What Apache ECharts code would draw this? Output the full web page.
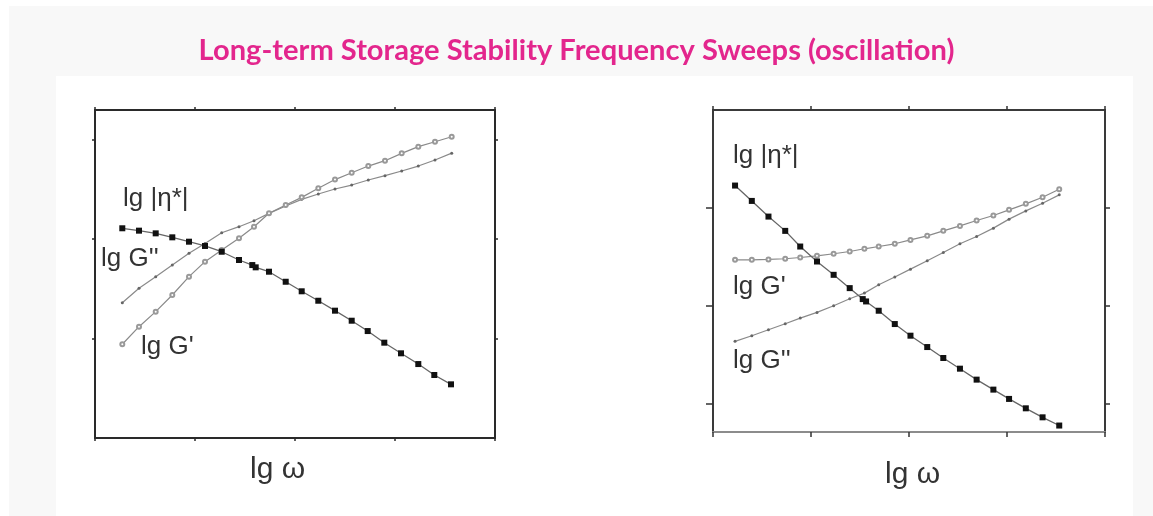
<!DOCTYPE html>
<html>
<head>
<meta charset="utf-8">
<script src="https://cdn.jsdelivr.net/npm/echarts@6/dist/echarts.min.js"></script>
<style>
  html, body { margin: 0; padding: 0; background: #ffffff; }
  #chart { width: 1153px; height: 516px; }
</style>
</head>
<body>
<div id="chart"></div>
<script>
// Frequency sweeps, log-log, arbitrary decades on both axes.
// Left panel: fresh sample
const lgOmegaL = [0.273, 0.44, 0.607, 0.773, 0.94, 1.10, 1.267, 1.44, 1.59, 1.74, 1.907,
                  2.067, 2.233, 2.40, 2.567, 2.733, 2.90, 3.067, 3.233, 3.40, 3.567];
const lgOmegaEtaL = [0.273, 0.44, 0.607, 0.773, 0.94, 1.10, 1.267, 1.44, 1.573, 1.607, 1.74,
                     1.907, 2.067, 2.233, 2.40, 2.567, 2.727, 2.893, 3.06, 3.233, 3.393, 3.56];
const etaL = [2.11, 2.086, 2.059, 2.019, 1.975, 1.932, 1.874, 1.791, 1.74, 1.717, 1.673,
              1.572, 1.476, 1.381, 1.281, 1.18, 1.076, 0.959, 0.852, 0.744, 0.634, 0.54];
const gPrimeL = [0.943, 1.12, 1.271, 1.439, 1.623, 1.774, 1.891, 2.009, 2.126, 2.261, 2.344,
                 2.421, 2.512, 2.60, 2.669, 2.736, 2.79, 2.864, 2.931, 2.981, 3.031];
const gDoubleL = [1.361, 1.506, 1.623, 1.741, 1.858, 1.958, 2.065, 2.126, 2.186, 2.26, 2.334,
                  2.401, 2.455, 2.505, 2.545, 2.596, 2.639, 2.686, 2.736, 2.797, 2.866];

// Right panel: after long-term storage
const lgOmegaR = [0.225, 0.396, 0.566, 0.737, 0.89, 1.061, 1.231, 1.395, 1.545, 1.691, 1.855,
                  2.015, 2.186, 2.35, 2.52, 2.69, 2.861, 3.021, 3.192, 3.363, 3.533];
const lgOmegaEtaR = [0.225, 0.396, 0.566, 0.737, 0.89, 1.061, 1.231, 1.395, 1.528, 1.562, 1.691,
                     1.855, 2.015, 2.186, 2.35, 2.52, 2.69, 2.861, 3.021, 3.192, 3.363, 3.533];
const etaR = [3.228, 3.071, 2.911, 2.765, 2.605, 2.452, 2.316, 2.18, 2.068, 2.044, 1.949,
              1.813, 1.694, 1.578, 1.466, 1.357, 1.245, 1.143, 1.048, 0.952, 0.86, 0.776];
const gPrimeR = [2.469, 2.469, 2.473, 2.48, 2.493, 2.51, 2.531, 2.554, 2.582, 2.605, 2.633,
                 2.673, 2.714, 2.765, 2.816, 2.871, 2.922, 2.98, 3.041, 3.109, 3.19];
const gDoubleR = [1.636, 1.694, 1.755, 1.816, 1.874, 1.932, 2.0, 2.071, 2.129, 2.214, 2.293,
                  2.374, 2.459, 2.544, 2.633, 2.707, 2.793, 2.885, 2.969, 3.048, 3.133];

const yTicks = [1, 2, 3];
const titleText = 'Long-term Storage Stability Frequency Sweeps (oscillation)';
const xName = 'lg ω';
const labelEta = 'lg |η*|';
const labelG1 = "lg G'";
const labelG2 = "lg G''";

const pair = (xs, ys) => xs.map((x, i) => [x, ys[i]]);

const FONT = '"Liberation Sans", Arial, sans-serif';

function frameAxis(grid, pos, opts) {
  return Object.assign({
    type: 'value', gridIndex: grid, position: pos,
    axisLine: { show: true, onZero: false, lineStyle: { color: '#2a2a2a', width: 2 } },
    axisTick: { show: true, inside: false, length: 3, lineStyle: { color: '#2a2a2a', width: 1.5 } },
    axisLabel: { show: false },
    splitLine: { show: false }
  }, opts);
}

// Fit the title to its measured span
function titleFontSize(text, targetWidth) {
  const c = document.createElement('canvas').getContext('2d');
  c.font = 'bold 24px Lato';
  const w = c.measureText(text).width;
  return 24 * targetWidth / w;
}

const chart = echarts.init(document.getElementById('chart'), null, { renderer: 'canvas' });

const lineGray = '#8a8a8a';

function seriesSet(xi, yi, xEta, eta, xG, g1, g2) {
  return [
    {
      type: 'line', xAxisIndex: xi, yAxisIndex: yi, data: pair(xG, g2),
      symbol: 'circle', symbolSize: 3, showSymbol: true,
      lineStyle: { color: lineGray, width: 1.2 },
      itemStyle: { color: '#666' }, z: 3
    },
    {
      type: 'line', xAxisIndex: xi, yAxisIndex: yi, data: pair(xG, g1),
      symbol: 'emptyCircle', symbolSize: 4, showSymbol: true,
      lineStyle: { color: lineGray, width: 1.2 },
      itemStyle: { color: '#999', borderWidth: 1 }, z: 4
    },
    {
      type: 'line', xAxisIndex: xi, yAxisIndex: yi, data: pair(xEta, eta),
      symbol: 'rect', symbolSize: 6, showSymbol: true,
      lineStyle: { color: '#666', width: 1.3 },
      itemStyle: { color: '#111' }, z: 5
    }
  ];
}

const txt = (x, y, s, size) => ({
  type: 'text', left: x, top: y, z: 10,
  style: { text: s, font: `${size}px ${FONT}`, fill: '#333' }
});

chart.setOption({
  animation: false,
  backgroundColor: 'transparent',
  graphic: [
    { type: 'rect', z: -10, shape: { x: 9, y: 6, width: 1144, height: 510 }, style: { fill: '#f8f8f8' } },
    { type: 'rect', z: -9, shape: { x: 56, y: 76, width: 1077, height: 440 }, style: { fill: '#ffffff' } },
    {
      type: 'text', z: 10, left: 'center', top: 36,
      style: {
        text: titleText, fill: '#e3268d',
        font: `bold ${titleFontSize(titleText, 755).toFixed(1)}px Lato, sans-serif`
      }
    },
    txt(123, 186, labelEta, 26),
    txt(101, 246, labelG2, 26),
    txt(141, 334, labelG1, 26),
    txt(733, 143, labelEta, 26),
    txt(733, 274, labelG1, 26),
    txt(733, 348, labelG2, 26),
    txt(250, 455, xName, 30),
    txt(885, 460, xName, 30)
  ],
  grid: [
    { left: 95, top: 110, width: 400, height: 328 },
    { left: 713, top: 110, width: 392, height: 322 }
  ],
  xAxis: [
    frameAxis(0, 'bottom', { min: 0, max: 4, interval: 1 }),
    frameAxis(0, 'top', { min: 0, max: 4, interval: 1 }),
    frameAxis(1, 'bottom', {
      min: 0, max: 4, interval: 1,
      axisLine: { show: true, onZero: false, lineStyle: { color: '#8c8c8c', width: 2 } },
      axisTick: { show: true, length: 5, lineStyle: { color: '#333', width: 1.5 } }
    }),
    frameAxis(1, 'top', {
      min: 0, max: 4, interval: 1,
      axisLine: { show: true, onZero: false, lineStyle: { color: '#3a3a3a', width: 2 } },
      axisTick: { show: true, length: 4, lineStyle: { color: '#333', width: 1.5 } }
    })
  ],
  yAxis: [
    frameAxis(0, 'left', { min: 0, max: 3.3, axisTick: { show: true, length: 3, customValues: yTicks, lineStyle: { color: '#2a2a2a', width: 1.5 } } }),
    frameAxis(0, 'right', { min: 0, max: 3.3, axisTick: { show: true, length: 3, customValues: yTicks, lineStyle: { color: '#2a2a2a', width: 1.5 } } }),
    frameAxis(1, 'left', {
      min: 0.71, max: 4,
      axisLine: { show: true, onZero: false, lineStyle: { color: '#3a3a3a', width: 2 } },
      axisTick: { show: true, length: 7, customValues: yTicks, lineStyle: { color: '#333', width: 1.5 } }
    }),
    frameAxis(1, 'right', {
      min: 0.71, max: 4,
      axisLine: { show: true, onZero: false, lineStyle: { color: '#3a3a3a', width: 2 } },
      axisTick: { show: true, length: 5, customValues: yTicks, lineStyle: { color: '#333', width: 1.5 } }
    })
  ],
  series: [
    ...seriesSet(0, 0, lgOmegaEtaL, etaL, lgOmegaL, gPrimeL, gDoubleL),
    ...seriesSet(2, 2, lgOmegaEtaR, etaR, lgOmegaR, gPrimeR, gDoubleR)
  ]
});
</script>
</body>
</html>
